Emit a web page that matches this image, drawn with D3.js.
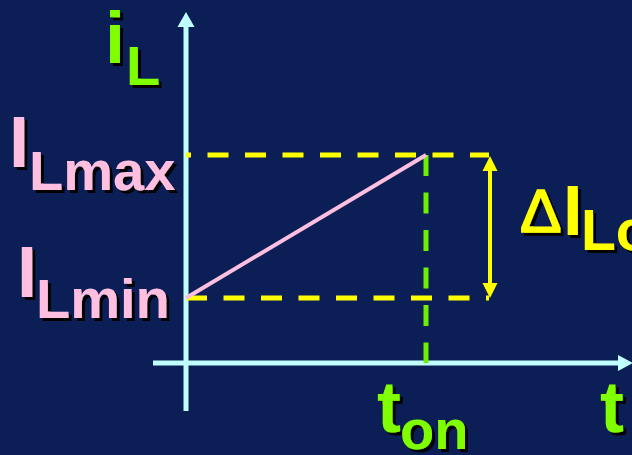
<!DOCTYPE html>
<html>
<head>
<meta charset="utf-8">
<script src="https://cdn.jsdelivr.net/npm/d3@7"></script>
<style>
  html, body { margin: 0; padding: 0; background: #0b1e56; }
  svg { display: block; }
  text { font-family: "Liberation Sans", Arial, sans-serif; font-weight: bold; }
</style>
</head>
<body>
<div id="chart"></div>
<script>
// inductor current during the on-time
const timePoints = [0, 1];          // t = 0, t = ton
const currentPoints = [1, 2];       // ILmin, ILmax (relative)
const currentSubs = ["Lmin", "Lmax"];
const timeSub = "on";

const W = 632, H = 455;
const axisColor = "#bfffff";
const yellow = "#ffff00";
const green = "#7fff00";
const pink = "#ffbfe0";

const svg = d3.select("#chart").append("svg")
  .attr("width", W)
  .attr("height", H);

/* black drop shadow for the labels */
svg.append("defs").append("filter")
  .attr("id", "shadow")
  .attr("x", "-10%").attr("y", "-10%")
  .attr("width", "130%").attr("height", "130%")
  .append("feDropShadow")
  .attr("dx", 3).attr("dy", 3)
  .attr("stdDeviation", 0)
  .attr("flood-color", "#000")
  .attr("flood-opacity", 1);

svg.append("rect").attr("width", W).attr("height", H).attr("fill", "#0b1e56");

const x = d3.scaleLinear().domain([0, 1]).range([186, 426]);
const y = d3.scaleLinear().domain([1, 2]).range([298, 155]);

const arrowX = 490;

/* axes with arrow heads */
svg.append("line")
  .attr("x1", x(0)).attr("x2", x(0))
  .attr("y1", 411).attr("y2", 24)
  .attr("stroke", axisColor).attr("stroke-width", 5);
svg.append("path")
  .attr("d", `M${x(0) - 8.5},27 L${x(0)},12 L${x(0) + 8.5},27 Z`)
  .attr("fill", axisColor);

svg.append("line")
  .attr("x1", 153).attr("x2", 620)
  .attr("y1", 363).attr("y2", 363)
  .attr("stroke", axisColor).attr("stroke-width", 5);
svg.append("path")
  .attr("d", "M618,355 L633,363 L618,371 Z")
  .attr("fill", axisColor);

/* dashed level lines */
svg.selectAll(".level")
  .data(currentPoints)
  .join("line")
  .attr("class", "level")
  .attr("x1", x(0)).attr("x2", arrowX - 1)
  .attr("y1", d => y(d)).attr("y2", d => y(d))
  .attr("stroke", yellow).attr("stroke-width", 5)
  .attr("stroke-dasharray", "21,16.5")
  .attr("stroke-dashoffset", (d, i) => i === 0 ? 0 : 16);

/* dashed ton line */
svg.append("line")
  .attr("x1", x(1)).attr("x2", x(1))
  .attr("y1", y(2)).attr("y2", 363)
  .attr("stroke", "#6cef00").attr("stroke-width", 5)
  .attr("stroke-dasharray", "21,16.5");

/* current ramp */
svg.append("path")
  .datum(d3.zip(timePoints, currentPoints))
  .attr("d", d3.line().x(d => x(d[0])).y(d => y(d[1])))
  .attr("stroke", pink).attr("stroke-width", 4)
  .attr("fill", "none");

/* delta arrow */
svg.append("line")
  .attr("x1", arrowX).attr("x2", arrowX)
  .attr("y1", y(2) + 12).attr("y2", y(1) - 12)
  .attr("stroke", yellow).attr("stroke-width", 4);
svg.append("path")
  .attr("d", `M${arrowX - 7.5},${y(2) + 16} L${arrowX},${y(2) + 1} L${arrowX + 7.5},${y(2) + 16} Z`)
  .attr("fill", yellow);
svg.append("path")
  .attr("d", `M${arrowX - 7.5},${y(1) - 15} L${arrowX},${y(1)} L${arrowX + 7.5},${y(1) - 15} Z`)
  .attr("fill", yellow);

/* labels: one text per label, parts as tspans [x, y, size, text, weight, stroke] */
function label(parts, color) {
  const t = svg.append("text")
    .attr("fill", color)
    .attr("filter", "url(#shadow)");
  parts.forEach(([px, py, size, txt, weight, sw]) => {
    const s = t.append("tspan")
      .attr("x", px).attr("y", py)
      .attr("font-size", size)
      .attr("font-weight", weight || "bold")
      .text(txt);
    if (sw) s.attr("stroke", color).attr("stroke-width", sw);
  });
}

// y axis title
label([[105, 63, 72, "i"], [126, 85, 56, "L"]], green);

// level labels
const mainX = [17, 9];
const subX = [36, 29];
currentPoints.forEach((v, i) => {
  const by = y(v);
  label([
    [mainX[i], i === 0 ? by - 1 : by + 12, 72, "I"],
    [subX[i], i === 0 ? by + 20 : by + 35, 56, currentSubs[i]]
  ], pink);
});

// delta label
label([
  [520, 232, 62, "\u0394", "normal", 1.6],
  [563, 235, 70, "I"],
  [581, 250, 57, "Lon"]
], yellow);

// time labels
label([[x(1) - 49, 432, 72, "t"], [x(1) - 26, 449, 56, timeSub]], green);
label([[600, 432, 72, "t"]], green);
</script>
</body>
</html>
